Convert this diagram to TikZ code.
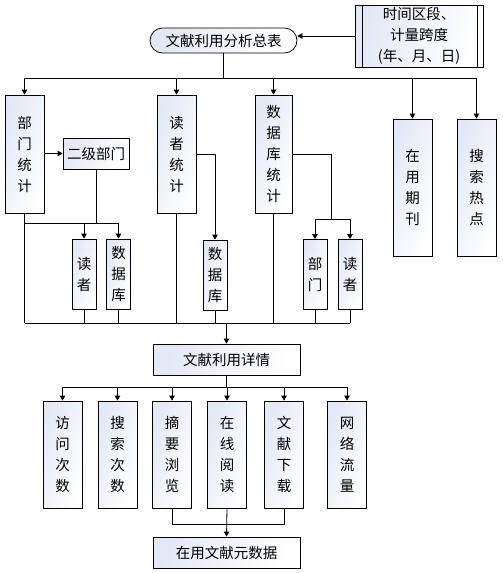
\documentclass[tikz,border=0pt]{standalone}
\usepackage{fontspec}
\setmainfont{Noto Sans CJK SC}
\usetikzlibrary{arrows.meta}
\definecolor{boxblue}{HTML}{E3E8F5}
\tikzset{
  box/.style={draw=black, line width=0.8pt, inner sep=0pt, align=center,
    left color=boxblue, right color=white, shading angle=70,
    font=\fontsize{14.5}{21}\selectfont},
  vbox/.style={box, minimum width=39pt},
  sbox/.style={box, minimum width=24pt, minimum height=70pt},
  cbox/.style={box, minimum width=39pt, minimum height=107pt},
  ln/.style={line width=0.8pt},
  arr/.style={line width=0.8pt, -{Triangle[width=5.5pt,length=5pt]}}
}
\begin{document}
\begin{tikzpicture}[x=1pt,y=-1pt]
\useasboundingbox (0,0) rectangle (503,573);
% nodes
\node[box, minimum width=147pt, minimum height=25pt, rounded corners=12.5pt] (top) at (223.5,40.5) {文献利用分析总表};
\node[box, minimum width=128pt, minimum height=62pt] (time) at (419,36) {时间区段、\\计量跨度\\(年、月、日)};
\draw[ln] ([xshift=8pt]time.north west) -- ([xshift=8pt]time.south west);
\draw[ln] ([xshift=-6pt]time.north east) -- ([xshift=-6pt]time.south east);

\node[vbox, minimum height=118pt] (b1) at (24.5,154) {部\\门\\统\\计};
\node[vbox, minimum height=118pt] (b2) at (176.5,154) {读\\者\\统\\计};
\node[vbox, minimum width=37pt, minimum height=118pt] (b3) at (273.5,154) {数\\据\\库\\统\\计};
\node[vbox, minimum height=137pt] (b4) at (412.5,187.5) {在\\用\\期\\刊};
\node[vbox, minimum height=137pt] (b5) at (476.5,187.5) {搜\\索\\热\\点};

\node[box, minimum width=66pt, minimum height=31pt] (sub) at (96,153.5) {二级部门};
\node[sbox] (s1) at (84,274) {读\\者};
\node[sbox] (s2) at (118.5,274) {数\\据\\库};
\node[sbox] (s3) at (215,275) {数\\据\\库};
\node[sbox] (s4) at (315,274.5) {部\\门};
\node[sbox] (s5) at (350,274.5) {读\\者};

\node[box, minimum width=147pt, minimum height=31pt] (d) at (226.5,359.5) {文献利用详情};
\node[cbox] (c1) at (62.5,454.5) {访\\问\\次\\数};
\node[cbox] (c2) at (117.5,454.5) {搜\\索\\次\\数};
\node[cbox] (c3) at (172,454.5) {摘\\要\\浏\\览};
\node[cbox] (c4) at (227,454.5) {在\\线\\阅\\读};
\node[cbox] (c5) at (284,454.5) {文\\献\\下\\载};
\node[cbox] (c6) at (347,454.5) {网\\络\\流\\量};
\node[box, minimum width=147pt, minimum height=31pt] (m) at (226.5,552.5) {在用文献元数据};

% bus coordinates
\coordinate (busA) at (0,78);
\coordinate (busB) at (0,223);
\coordinate (busC) at (331,219);
\coordinate (busD) at (0,323);
\coordinate (busE) at (0,387);
\coordinate (busF) at (0,524);

% top
\draw[arr] (time.west) -- (time.west -| top.east);
\draw[ln] (top.south) -- (top.south |- busA);
\draw[ln] (b1.north |- busA) -- (b5.north |- busA);
\foreach \n in {b1,b2,b3,b4,b5} \draw[arr] (\n.north |- busA) -- (\n.north);

% 部门统计
\draw[arr] (b1.east |- sub) -- (sub.west);
\draw[ln] (sub.south) -- (sub.south |- busB);
\draw[ln] (b1.south |- busB) -- (s2.north |- busB);
\draw[arr] (s1.north |- busB) -- (s1.north);
\draw[arr] (s2.north |- busB) -- (s2.north);

% 读者统计
\draw[arr] (b2.east) -| (s3.north);

% 数据库统计
\draw[ln] (b3.east) -| (busC);
\draw[ln] (s4.north |- busC) -- (s5.north |- busC);
\draw[arr] (s4.north |- busC) -- (s4.north);
\draw[arr] (s5.north |- busC) -- (s5.north);

% bottom bus
\foreach \n in {b1,s1,s2,b2,s3,b3,s4,s5} \draw[ln] (\n.south) -- (\n.south |- busD);
\draw[ln] (b1.south |- busD) -- (s5.south |- busD);
\draw[arr] (d.north |- busD) -- (d.north);

% details
\draw[ln] (d.south) -- (d.south |- busE);
\draw[ln] (c1.north |- busE) -- (c6.north |- busE);
\foreach \n in {c1,c2,c3,c4,c5,c6} \draw[arr] (\n.north |- busE) -- (\n.north);

% metadata
\draw[ln] (c3.south) -- (c3.south |- busF) -- (c5.south |- busF) -- (c5.south);
\draw[arr] (c4.south) -- (m.north);
\end{tikzpicture}
\end{document}
